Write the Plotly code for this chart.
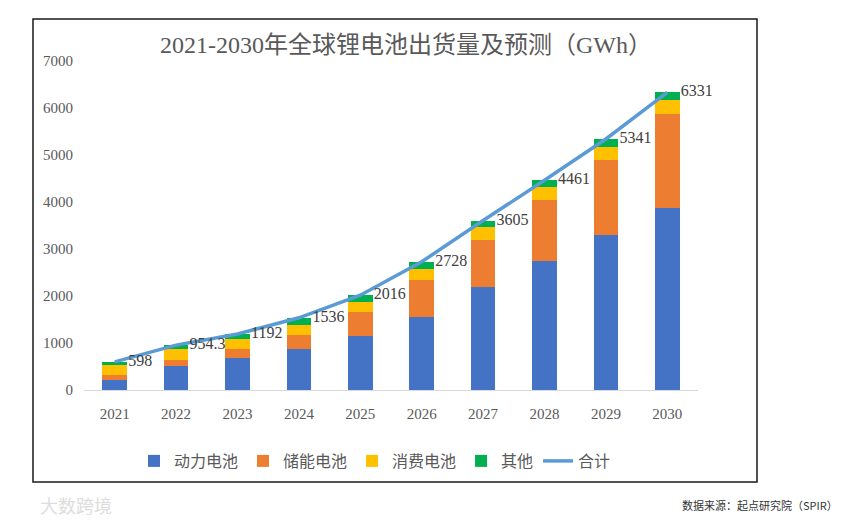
import plotly.graph_objects as go

years = ["2021", "2022", "2023", "2024", "2025", "2026", "2027", "2028", "2029", "2030"]
power = [220, 510, 680, 880, 1150, 1550, 2200, 2740, 3300, 3880]
storage = [90, 130, 190, 300, 500, 790, 1000, 1310, 1600, 2000]
consumer = [230, 240, 220, 210, 220, 240, 260, 260, 270, 290]
other = [58, 74.3, 102, 146, 146, 148, 145, 151, 171, 161]
total = [598, 954.3, 1192, 1536, 2016, 2728, 3605, 4461, 5341, 6331]
total_labels = ["598", "954.3", "1192", "1536", "2016", "2728", "3605", "4461", "5341", "6331"]

serif = "Liberation Serif, Times New Roman, serif"
mixed = "Liberation Serif, Noto Sans CJK SC, sans-serif"
cjk = "Noto Sans CJK SC, Microsoft YaHei, sans-serif"

fig = go.Figure()
for name, vals, col in [("动力电池", power, "#4472C4"), ("储能电池", storage, "#ED7D31"),
                        ("消费电池", consumer, "#FFC000"), ("其他", other, "#00B050")]:
    fig.add_trace(go.Bar(x=years, y=vals, name=name, marker=dict(color=col, line=dict(width=0))))

fig.add_trace(go.Scatter(x=years, y=total, name="合计", mode="lines+markers+text",
                         line=dict(color="#5B9BD5", width=3.5),
                         marker=dict(size=20, color="rgba(0,0,0,0)"),
                         text=total_labels, textposition="middle right", cliponaxis=False,
                         textfont=dict(family=serif, size=16, color="#404040")))

W, H = 848, 522
L, R, T, B = 84, 698, 61, 390
pw, ph = R - L, B - T
def px(x): return (x - L) / pw
def py(y): return (B - y) / ph

fig.update_layout(
    width=W, height=H,
    margin=dict(l=L, r=W - R, t=T, b=H - B, autoexpand=False),
    paper_bgcolor="white", plot_bgcolor="white",
    barmode="stack", bargap=0.6,
    title=dict(text="2021-2030年全球锂电池出货量及预测（GWh）", xref="container", x=406 / W,
               xanchor="center", yref="container", y=1 - 45 / H, yanchor="middle",
               font=dict(family=mixed, size=24, color="#595959")),
    xaxis=dict(range=[-0.5, 9.5], showgrid=False, showline=True, linecolor="#D9D9D9", linewidth=1,
               ticks="", tickfont=dict(family=serif, size=15, color="#595959"),
               ticklabelstandoff=10),
    yaxis=dict(range=[0, 7000], dtick=1000, showgrid=False, showline=False, zeroline=False,
               tickfont=dict(family=serif, size=15, color="#595959"), ticklabelstandoff=10),
    legend=dict(orientation="h", x=px(134), xanchor="left", y=py(461), yanchor="middle",
                font=dict(family=cjk, size=16, color="#595959"), itemwidth=30,
                traceorder="normal", bgcolor="rgba(0,0,0,0)"),
    showlegend=True,
)

# outer frame
fig.add_shape(type="rect", xref="paper", yref="paper",
              x0=px(33), x1=px(757), y0=py(482), y1=py(19),
              line=dict(color="#1a1a1a", width=1.5), fillcolor="rgba(0,0,0,0)", layer="below")

fig.add_annotation(text="数据来源：起点研究院（SPIR）", xref="paper", yref="paper",
                   x=px(840), y=py(505), xanchor="right", yanchor="middle", showarrow=False,
                   font=dict(family=cjk, size=11, color="#333333"))
fig.add_annotation(text="大数跨境", xref="paper", yref="paper",
                   x=px(38), y=py(505), xanchor="left", yanchor="middle", showarrow=False,
                   font=dict(family=cjk, size=18, color="#DDDDDD"))

fig.write_html("out.html", config={"displayModeBar": False},
               post_script="document.body.style.margin='0';document.body.style.overflow='hidden';")
